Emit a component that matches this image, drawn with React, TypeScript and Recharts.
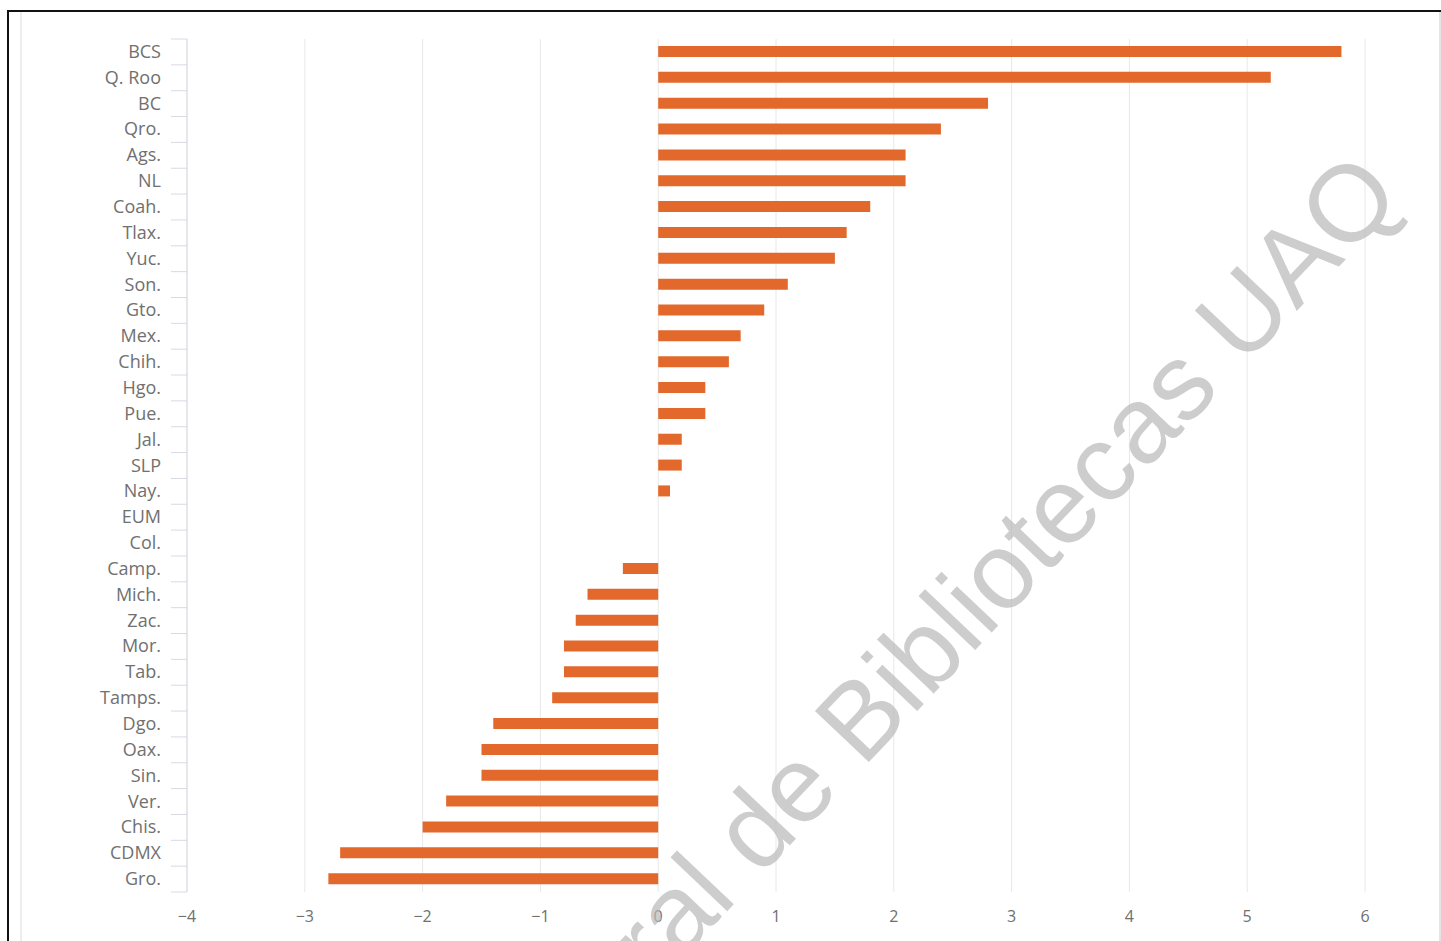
import React from 'react'
import { BarChart, Bar, XAxis, YAxis, CartesianGrid } from 'recharts'

const states = [
  'BCS', 'Q. Roo', 'BC', 'Qro.', 'Ags.', 'NL', 'Coah.', 'Tlax.', 'Yuc.', 'Son.', 'Gto.',
  'Mex.', 'Chih.', 'Hgo.', 'Pue.', 'Jal.', 'SLP', 'Nay.', 'EUM', 'Col.', 'Camp.', 'Mich.',
  'Zac.', 'Mor.', 'Tab.', 'Tamps.', 'Dgo.', 'Oax.', 'Sin.', 'Ver.', 'Chis.', 'CDMX', 'Gro.',
]
const values = [
  5.8, 5.2, 2.8, 2.4, 2.1, 2.1, 1.8, 1.6, 1.5, 1.1, 0.9,
  0.7, 0.6, 0.4, 0.4, 0.2, 0.2, 0.1, 0, 0, -0.3, -0.6,
  -0.7, -0.8, -0.8, -0.9, -1.4, -1.5, -1.5, -1.8, -2.0, -2.7, -2.8,
]
const xTicks = [-4, -3, -2, -1, 0, 1, 2, 3, 4, 5, 6]
const watermark = 'Dirección General de Bibliotecas UAQ'

const data = states.map((name, i) => ({ name, value: values[i] }))

const W = 1441
const H = 941
const plotTop = 39
const plotBottom = 892
const plotLeft = 187
const plotRight = 1365
const band = (plotBottom - plotTop) / states.length
const labelFont = '"Open Sans", sans-serif'

function StateTick(props: any) {
  const { x, y, payload, index } = props
  const last = index === states.length - 1
  return (
    <g>
      <text x={x - 26} y={y} dy={6} textAnchor="end" fontSize={18} fontFamily={labelFont} fill="#707070">
        {payload.value}
      </text>
      <line x1={x - 16} x2={x} y1={y - band / 2} y2={y - band / 2} stroke="#d9d9e3" />
      {last && <line x1={x - 16} x2={x} y1={y + band / 2} y2={y + band / 2} stroke="#d9d9e3" />}
    </g>
  )
}

export default function App() {
  return (
    <div style={{ position: 'fixed', left: 0, top: 0, width: W, height: H, overflow: 'hidden', background: '#fff' }}>
      {/* page frame */}
      <div style={{ position: 'absolute', left: 7, top: 10, right: 0, bottom: -10, borderTop: '2px solid #111', borderLeft: '2px solid #111' }} />
      <div style={{ position: 'absolute', left: 20, top: 12, width: 1417, height: 940, borderLeft: '2px solid #eeeeee', borderRight: '2px solid #e4e4e4' }} />
      <div style={{ position: 'absolute', left: 0, top: 0 }}>
        <BarChart
          width={W}
          height={H}
          data={data}
          layout="vertical"
          barSize={11}
          margin={{ top: plotTop, right: W - plotRight, left: plotLeft - 100, bottom: H - plotBottom - 30 }}
        >
          <CartesianGrid horizontal={false} stroke="#e8e8e8" />
          <XAxis
            type="number"
            domain={[-4, 6]}
            ticks={xTicks}
            height={30}
            axisLine={false}
            tickLine={false}
            tickMargin={13}
            tick={{ fontSize: 16, fontFamily: labelFont, fill: '#707070' }}
            tickFormatter={(v: number) => (v < 0 ? `\u2212${Math.abs(v)}` : `${v}`)}
          />
          <YAxis
            type="category"
            dataKey="name"
            width={100}
            axisLine={{ stroke: '#d9d9e3' }}
            tickLine={false}
            tickSize={0}
            tickMargin={0}
            interval={0}
            tick={<StateTick />}
          />
          <Bar dataKey="value" fill="#e2682b" isAnimationActive={false} />
        </BarChart>
      </div>
      <svg width={W} height={H} style={{ position: 'absolute', left: 0, top: 0, pointerEvents: 'none' }}>
        <text
          x={1404}
          y={198}
          textAnchor="end"
          fontSize={108}
          fontFamily='"Liberation Sans", Arial, sans-serif'
          fill="#b8b8b8"
          fillOpacity={0.7}
          transform="rotate(-46.5 1404 198)"
        >
          {watermark}
        </text>
      </svg>
    </div>
  )
}
